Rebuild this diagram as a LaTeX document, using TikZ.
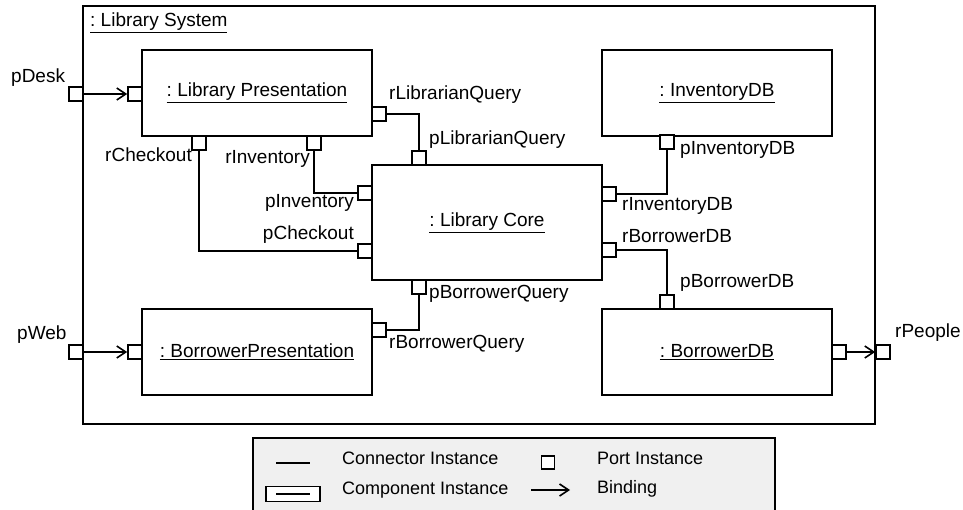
\documentclass[tikz,border=0pt]{standalone}
\usepackage{fontspec}
\setmainfont{Liberation Sans}
\usetikzlibrary{arrows.meta}
\definecolor{legendfill}{RGB}{240,240,240}
\frenchspacing
\begin{document}
\frenchspacing
\begin{tikzpicture}[x=1pt,y=-1pt,
  comp/.style={draw, line width=1.9pt, minimum width=230pt, minimum height=86pt, inner sep=0pt, font=\fontsize{19}{22}\selectfont},
  port/.style={draw, fill=white, line width=1.6pt, minimum size=14pt, inner sep=0pt},
  lbl/.style={inner sep=0pt, font=\fontsize{19}{22}\selectfont, text height=0.72em, text depth=0.2em},
  leglbl/.style={inner sep=0pt, anchor=west, font=\fontsize{18}{21}\selectfont, text height=0.72em, text depth=0.2em},
  conn/.style={line width=1.6pt},
  bind/.style={line width=1.6pt, -{Straight Barb[length=9pt,width=12pt,line width=1.6pt]}}]
\useasboundingbox (0,0) rectangle (963,510);

% outer frame
\node[draw, line width=2.1pt, minimum width=792pt, minimum height=418pt, inner sep=0pt] (sys) at (479,215) {};
\node[lbl, anchor=west] (syslbl) at (90,24) {\underline{: Library System}};

% components
\node[comp] (lp) at (257,93) {\underline{: Library Presentation}};
\node[comp] (bp) at (257,352) {\underline{: BorrowerPresentation}};
\node[comp, minimum height=115pt] (lc) at (487,222.5) {\underline{: Library Core}};
\node[comp] (idb) at (717,93) {\underline{: InventoryDB}};
\node[comp] (bdb) at (717,352) {\underline{: BorrowerDB}};

% ports
\node[port] (pdesk) at (76,94) {};
\node[port] (lpin) at (135,94) {};
\node[port] (rcheck) at (199,143) {};
\node[port] (rinv) at (314,143) {};
\node[port] (rlq) at (379,114) {};
\node[port] (plq) at (419,158) {};
\node[port] (pinv) at (365,193) {};
\node[port] (pcheck) at (365,251) {};
\node[port] (pbq) at (419,287) {};
\node[port] (rinvdb) at (609,194) {};
\node[port] (rbdb) at (609,250) {};
\node[port] (pinvdb) at (667,142) {};
\node[port] (pbdb) at (667,302) {};
\node[port] (rbq) at (379,330) {};
\node[port] (bpin) at (135,352) {};
\node[port] (pweb) at (76,352) {};
\node[port] (bdbout) at (839,352) {};
\node[port] (rpeople) at (883,352) {};

% connectors
\draw[conn] (rlq.east) -| (plq.north);
\draw[conn] (rinv.south) |- (pinv.west);
\draw[conn] (rcheck.south) |- (pcheck.west);
\draw[conn] (rinvdb.east) -| (pinvdb.south);
\draw[conn] (rbdb.east) -| (pbdb.north);
\draw[conn] (rbq.east) -| (pbq.south);

% bindings
\draw[bind] (pdesk.east) -- (lpin.west);
\draw[bind] (pweb.east) -- (bpin.west);
\draw[bind] (bdbout.east) -- (rpeople.west);

% port labels
\node[lbl, anchor=west] (tpdesk) at (11,80) {pDesk};
\node[lbl, anchor=west] (tpweb) at (17,337) {pWeb};
\node[lbl, anchor=west] (trpeople) at (895,335) {rPeople};
\node[lbl, anchor=west] (trlq) at (389,97) {rLibrarianQuery};
\node[lbl, anchor=west] (tplq) at (429,142) {pLibrarianQuery};
\node[lbl, anchor=east] (trcheck) at (192,159) {rCheckout};
\node[lbl, anchor=east] (trinv) at (310,161) {rInventory};
\node[lbl, anchor=east] (tpinv) at (354,205) {pInventory};
\node[lbl, anchor=east] (tpcheck) at (354,237) {pCheckout};
\node[lbl, anchor=west] (trinvdb) at (622,208) {rInventoryDB};
\node[lbl, anchor=west] (trbdb) at (622,240) {rBorrowerDB};
\node[lbl, anchor=west] (tpinvdb) at (680,152) {pInventoryDB};
\node[lbl, anchor=west] (tpbdb) at (680,285) {pBorrowerDB};
\node[lbl, anchor=west] (tpbq) at (429,296) {pBorrowerQuery};
\node[lbl, anchor=west] (trbq) at (389,346) {rBorrowerQuery};

% legend
\fill[legendfill] (253,438) rectangle (775,514);
\draw[line width=1.3pt] (253,514) -- (253,438) -- (775,438) -- (775,514);
\coordinate (lgc1) at (276,463);
\coordinate (lgc2) at (310,463);
\draw[conn] (lgc1) -- (lgc2);
\node[leglbl] (lgt1) at (342,462) {Connector Instance};
\node[draw, fill=white, line width=1.6pt, minimum width=54pt, minimum height=15pt, inner sep=0pt] (lgcomp) at (293,494) {};
\coordinate (lgi1) at (276,494);
\coordinate (lgi2) at (310,494);
\draw[line width=1.1pt] (lgi1) -- (lgi2);
\node[leglbl] (lgt2) at (342,492) {Component Instance};
\node[draw, fill=white, line width=1.6pt, minimum size=13pt, inner sep=0pt] (lgport) at (548,462.5) {};
\node[leglbl] (lgt3) at (597,462) {Port Instance};
\coordinate (lgb1) at (531,490);
\coordinate (lgb2) at (570,490);
\draw[bind] (lgb1) -- (lgb2);
\node[leglbl] (lgt4) at (597,491) {Binding};
\end{tikzpicture}
\end{document}
